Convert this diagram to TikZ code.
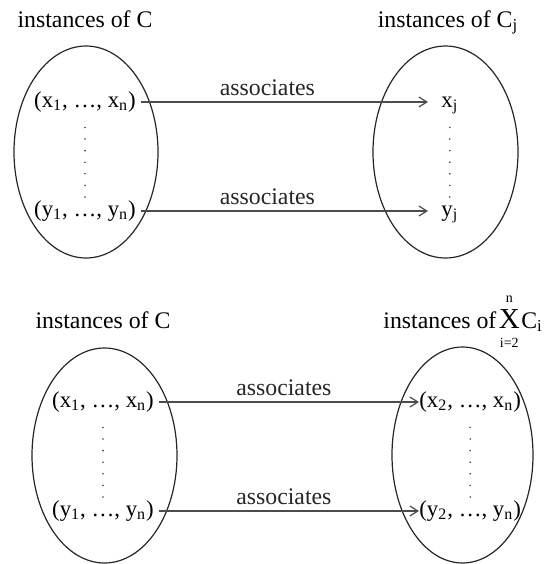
\documentclass[tikz,border=0pt]{standalone}
\usepackage{fontspec}
\setmainfont{Liberation Serif}
\usepackage{tikz}
\usetikzlibrary{arrows.meta}

\begin{document}
\begin{tikzpicture}[x=0.5pt, y=-0.5pt,
    font=\fontsize{11.9}{14}\selectfont,
    caption/.style={inner sep=0pt},
    elem/.style={inner sep=2.5pt, text height=0.75em, text depth=0.25em,
        font=\fontsize{11.4}{14}\selectfont},
    setline/.style={line width=0.6pt, black!85},
    arr/.style={-{Straight Barb[length=4pt, width=5pt]}, line width=0.6pt, black!70},
    lbl/.style={above=3pt, inner sep=0pt, text=black!85, font=\fontsize{11.9}{14}\selectfont},
    dotline/.style={dash pattern=on 0pt off 5.8pt, line cap=round, line width=0.9pt,
        black!75, shorten <=5pt, shorten >=-1pt}
]
\useasboundingbox (0,0) rectangle (544,564);

% top: C -> C_j
\node[caption, anchor=base] (capA) at (85,27) {instances of C};
\node[caption, anchor=base] (capB) at (448,27) {instances of C\textsubscript{j}};

\draw[setline] (86,152) ellipse [x radius=72, y radius=106];
\draw[setline] (445.5,152) ellipse [x radius=72.5, y radius=106];

\node[elem] (xt) at (85,102) {(x\textsubscript{1}, …, x\textsubscript{n})};
\node[elem] (yt) at (85,211) {(y\textsubscript{1}, …, y\textsubscript{n})};
\node[elem, inner xsep=6.5pt, anchor=west] (xj) at (428,102) {x\textsubscript{j}};
\node[elem, inner xsep=6.5pt, anchor=west] (yj) at (428,211) {y\textsubscript{j}};

\draw[dotline] (xt.south) -- (yt.north);
\draw[dotline] (xj.south) -- (yj.north);

\draw[arr] (xt) -- node[lbl, pos=0.44]{associates} (xj);
\draw[arr] (yt) -- node[lbl, pos=0.44]{associates} (yj);

% bottom: C -> product of C_i
\node[caption, anchor=base] (capC) at (103,328) {instances of C};
\node[caption, anchor=base west] (capD) at (383,328)
    {instances of\kern1.2pt$\mathop{\hbox{\fontsize{14.5}{16}\selectfont X}}\limits^{\hbox{\scriptsize n}\rule[-2pt]{0pt}{0pt}}_{\hbox{\scriptsize i=2}\rule{0pt}{8pt}}$\kern0.8pt C\textsubscript{i}};

\draw[setline] (104.5,455.5) ellipse [x radius=72.5, y radius=107.5];
\draw[setline] (462.5,455) ellipse [x radius=70.5, y radius=108];

\node[elem] (bx) at (103,402) {(x\textsubscript{1}, …, x\textsubscript{n})};
\node[elem] (by) at (103,511) {(y\textsubscript{1}, …, y\textsubscript{n})};
\node[elem, inner xsep=0pt, anchor=west] (px) at (419,402) {(x\textsubscript{2}, …, x\textsubscript{n})};
\node[elem, inner xsep=0pt, anchor=west] (py) at (419,511) {(y\textsubscript{2}, …, y\textsubscript{n})};

\draw[dotline] (bx.south) -- (by.north);
\draw[dotline] (px.south) -- (py.north);

\draw[arr] (bx) -- node[lbl, pos=0.48]{associates} (px);
\draw[arr] (by) -- node[lbl, pos=0.48]{associates} (py);

\end{tikzpicture}
\end{document}
